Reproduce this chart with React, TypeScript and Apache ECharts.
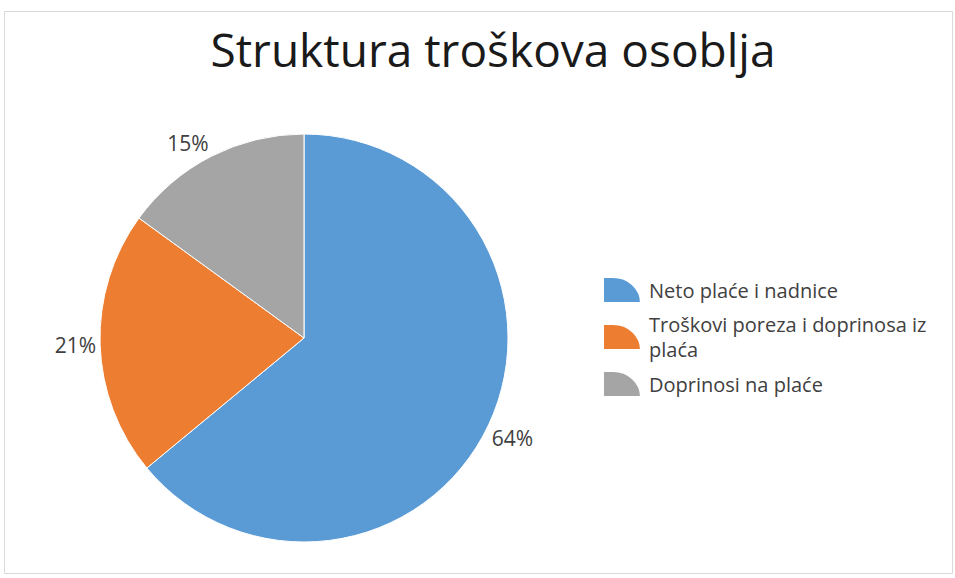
import React, { useEffect, useRef } from "react";
import * as echarts from "echarts";

const titleText = "Struktura troškova osoblja";
const categories = ["Neto plaće i nadnice", "Troškovi poreza i doprinosa iz plaća", "Doprinosi na plaće"];
const values = [64, 21, 15];
const colors = ["#5B9BD5", "#ED7D31", "#A5A5A5"];
// per-slice label placement tweaks (length of radial offset, distance from it)
const labelLengths = [31, 4, 15];
const labelDistances = [-25, 0, -4];

const FONT = "'Open Sans', 'DejaVu Sans', sans-serif";

export default function App() {
  const ref = useRef<HTMLDivElement>(null);
  useEffect(() => {
    if (!ref.current) return;
    const chart = echarts.init(ref.current, undefined, { renderer: "svg" });
    chart.setOption({
      animation: false,
      backgroundColor: "#ffffff",
      title: {
        text: titleText,
        left: 488,
        textAlign: "center",
        top: 21,
        textStyle: { fontFamily: FONT, fontSize: 46, fontWeight: "normal", color: "#1a1a1a" },
      },
      graphic: [
        {
          type: "rect",
          shape: { x: 4.5, y: 11.5, width: 948, height: 562 },
          style: { fill: "none", stroke: "#d9d9d9", lineWidth: 1 },
          silent: true,
        },
      ],
      legend: {
        orient: "vertical",
        left: 597,
        top: 271,
        itemWidth: 38,
        itemHeight: 26,
        itemGap: 8,
        symbolKeepAspect: false,
        icon: "path://M0,26 L0,0 L10,0 C26,0 38,12 38,26 Z",
        textStyle: { fontFamily: FONT, fontSize: 20, color: "#404040", lineHeight: 25, padding: [0, 0, 0, 3] },
        formatter: (name: string) =>
          name === "Troškovi poreza i doprinosa iz plaća" ? "Troškovi poreza i doprinosa iz\nplaća" : name,
        data: categories,
      },
      series: [
        {
          type: "pie",
          center: [304, 338],
          radius: 204,
          startAngle: 90,
          clockwise: true,
          avoidLabelOverlap: false,
          itemStyle: { borderColor: "#ffffff", borderWidth: 1 },
          label: {
            show: true,
            position: "outside",
            formatter: "{c}%",
            fontFamily: FONT,
            fontSize: 21,
            color: "#404040",
          },
          labelLine: { show: false, length: 8, length2: 0 },
          data: categories.map((n, i) => ({
            name: n,
            value: values[i],
            itemStyle: { color: colors[i] },
            label: { distanceToLabelLine: labelDistances[i] },
            labelLine: { show: false, length: labelLengths[i], length2: 0 },
          })),
        },
      ],
    });
    return () => chart.dispose();
  }, []);
  return <div ref={ref} style={{ position: "absolute", left: 0, top: 0, width: 955, height: 578 }} />;
}
